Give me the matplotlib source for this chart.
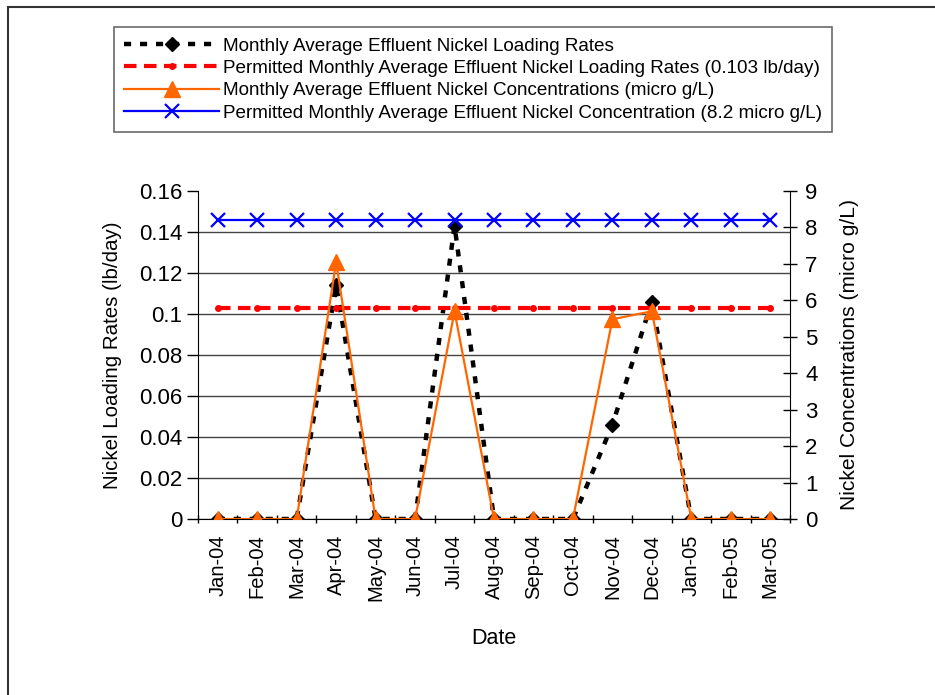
import matplotlib
matplotlib.use("Agg")
import matplotlib.pyplot as plt
from matplotlib import font_manager
from matplotlib.patches import Rectangle

names = {f.name for f in font_manager.fontManager.ttflist}
fam = "Liberation Sans Narrow" if "Liberation Sans Narrow" in names else "Liberation Sans"
plt.rcParams['font.family'] = [fam, 'DejaVu Sans']

months = ["Jan-04", "Feb-04", "Mar-04", "Apr-04", "May-04", "Jun-04", "Jul-04",
          "Aug-04", "Sep-04", "Oct-04", "Nov-04", "Dec-04", "Jan-05", "Feb-05", "Mar-05"]
loading = [0, 0, 0, 0.114, 0, 0, 0.143, 0, 0, 0, 0.046, 0.106, 0, 0, 0]
permitted_loading = [0.103] * 15
concentration = [0, 0, 0, 7.05, 0, 0, 5.7, 0, 0, 0, 5.48, 5.7, 0, 0, 0]
permitted_conc = [8.2] * 15
left_ticks = [0, 0.02, 0.04, 0.06, 0.08, 0.1, 0.12, 0.14, 0.16]
left_labels = ["0", "0.02", "0.04", "0.06", "0.08", "0.1", "0.12", "0.14", "0.16"]
right_ticks = list(range(10))

fig = plt.figure(figsize=(9.35, 6.95), dpi=100)
ax = fig.add_axes([198/935, 1-519/695, (790-198)/935, (519-191)/695])
ax2 = ax.twinx()

x = list(range(len(months)))
l1, = ax.plot(x, loading, color='black', lw=3.2, linestyle=(0, (1.6, 2.0)),
              marker='D', markersize=7, markerfacecolor='black', markeredgecolor='black', zorder=3,
              label="Monthly Average Effluent Nickel Loading Rates")
l2, = ax.plot(x, permitted_loading, color='#FF0000', lw=3, linestyle=(0, (3.0, 1.8)),
              marker='o', markersize=4, zorder=3,
              label="Permitted Monthly Average Effluent Nickel Loading Rates (0.103 lb/day)")
l3, = ax2.plot(x, concentration, color='#FF6600', lw=1.6, marker='^', markersize=11,
               markerfacecolor='#FF6600', markeredgecolor='#FF6600', zorder=3,
               label="Monthly Average Effluent Nickel Concentrations (micro g/L)")
l4, = ax2.plot(x, permitted_conc, color='#0000FF', lw=1.6, marker='x', markersize=10,
               markeredgewidth=1.6, zorder=3,
               label="Permitted Monthly Average Effluent Nickel Concentration (8.2 micro g/L)")

ax.set_xlim(-0.5, len(months) - 0.5)
ax.set_ylim(0, 0.16)
ax2.set_ylim(0, 9)

ax.set_yticks(left_ticks)
ax.set_yticklabels(left_labels)
ax2.set_yticks(right_ticks)

ax.set_xticks(x)
ax.set_xticklabels(months, rotation=90, fontsize=14.5)
ax.set_xticks([i - 0.5 for i in range(len(months) + 1)], minor=True)
ax.tick_params(axis='x', which='major', length=0, pad=11)
ax.tick_params(axis='x', which='minor', length=6, direction='inout', width=1)
ax.tick_params(axis='y', labelsize=16, length=8, direction='out', width=1)
ax2.tick_params(axis='y', labelsize=16, length=10, direction='inout', width=1, pad=6)

ax.grid(axis='y', color='#444444', lw=1)
ax.set_axisbelow(True)
ax.get_ygridlines()[-1].set_visible(False)

for a in (ax, ax2):
    a.spines['top'].set_visible(False)
    a.patch.set_visible(False)
ax.spines['right'].set_visible(False)
ax2.spines['left'].set_visible(False)
ax2.spines['bottom'].set_visible(False)

ax.set_xlabel("Date", fontsize=15.5, labelpad=19)
ax.set_ylabel("Nickel Loading Rates (lb/day)", fontsize=14.8, labelpad=12)
ax2.set_ylabel("Nickel Concentrations (micro g/L)", fontsize=15.1, labelpad=16)

leg = fig.legend(handles=[l1, l2, l3, l4], loc='upper left', bbox_to_anchor=(114/935, 1-27/695),
                 fontsize=13.6, handlelength=5.0, handletextpad=0.2, labelspacing=0.27,
                 borderpad=0.55, frameon=True, fancybox=False, edgecolor='#444444',
                 borderaxespad=0)
leg.get_frame().set_linewidth(1.2)

fig.patches.append(Rectangle((8/935, -0.1), 1.2, 1 - 7/695 + 0.1, transform=fig.transFigure,
                             fill=False, edgecolor='#333333', lw=1.5))

fig.savefig("out.png", dpi=100)
